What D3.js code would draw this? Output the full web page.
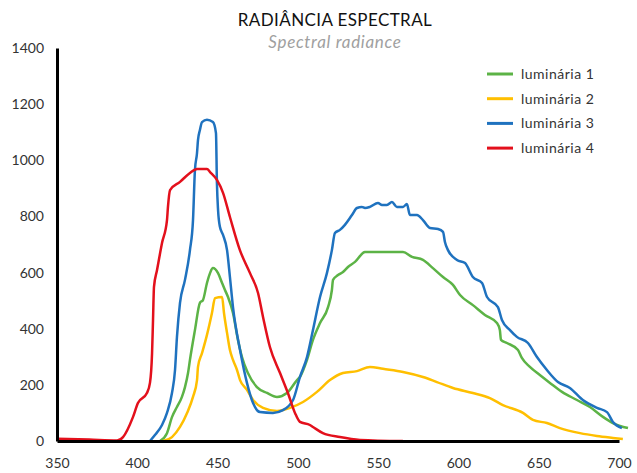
<!DOCTYPE html>
<html>
<head>
<meta charset="utf-8">
<script src="https://cdn.jsdelivr.net/npm/d3@7"></script>
<style>
  html, body { margin: 0; padding: 0; background: #fff; }
  svg { display: block; }
  text { font-family: Lato, "Open Sans", sans-serif; }
</style>
</head>
<body>
<svg id="chart" width="637" height="473"></svg>
<script>
// Wavelength (nm) and spectral radiance readings for each luminaire
const lum1Nm  = [414.1,418.5,421.6,424.7,427.8,429.7,431.6,432.8,435.9,439.0,440.9,443.4,445.3,447.1,450.3,452.8,454.6,456.5,459.6,462.7,465.2,468.9,474.5,480.8,487.0,493.2,499.5,501.3,505.7,509.4,513.8,518.8,521.2,521.9,525.0,528.1,531.2,535.6,541.8,549.3,565.5,571.1,577.9,584.1,590.4,596.6,601.0,609.0,616.5,624.0,625.8,626.5,630.2,637.1,639.5,644.5,650.7,657.0,664.5,673.8,681.9,690.0,696.2,705.6];
const lum1Val = [0,28,85,121,157,192,242,289,395,492,502,563,598,616,598,563,538,513,456,360,299,242,192,171,157,171,217,228,289,360,420,477,538,574,591,602,620,638,673,673,673,656,645,616,584,556,520,484,449,420,395,360,349,324,296,264,235,207,175,146,121,86,64,46];

const lum2Nm  = [416.0,421.6,426.6,431.0,434.7,437.2,437.8,440.3,443.4,446.5,448.4,452.8,454.0,455.9,457.7,459.6,462.1,464.0,468.3,472.1,478.3,487.0,495.1,503.2,511.9,520.0,528.1,536.8,544.9,553.0,565.5,577.9,586.6,596.6,609.0,619.6,627.7,640.2,646.4,655.1,663.2,675.7,686.2,696.2,702.4];
const lum2Val = [0,14,50,100,157,217,264,313,378,456,509,513,456,385,324,289,253,217,182,146,118,107,118,139,175,217,242,249,264,257,246,228,210,189,171,153,128,100,75,64,46,28,18,11,7];

const lum3Nm  = [407.9,411.0,415.4,418.5,421.6,423.5,424.7,426.6,429.7,432.8,434.7,435.9,437.2,437.8,439.0,440.3,443.4,447.1,449.0,449.6,450.3,451.5,453.4,455.9,457.7,459.6,464.0,468.3,472.1,476.4,484.5,490.7,497.0,501.3,505.7,509.4,513.8,518.1,521.2,523.1,526.2,529.3,533.7,536.8,539.9,541.8,544.9,549.9,552.4,555.5,558.6,561.7,565.5,567.9,569.8,574.2,577.9,582.3,587.3,590.4,591.6,593.5,599.1,604.1,609.0,614.7,617.8,624.6,627.1,632.1,636.4,643.3,648.9,655.1,662.0,669.4,677.5,686.3,692.5,696.2,701.8];
const lum3Val = [0,21,57,100,171,253,370,492,574,680,787,965,1026,1072,1108,1136,1144,1136,1097,919,823,762,734,680,584,477,324,207,135,103,100,110,146,228,299,395,513,598,680,741,752,770,805,830,834,830,834,848,841,841,851,834,834,844,805,805,787,759,755,745,709,680,645,634,584,563,513,477,431,395,371,349,299,253,210,189,146,118,103,68,46];

const lum4Nm  = [350,370,387.4,391.1,397.3,400.4,406.0,407.9,409.2,409.8,410.4,412.3,415.4,418.5,419.1,420.4,426.6,432.8,437.2,443.4,445.3,449.6,453.4,457.7,463.9,470.2,475.2,478.3,482.6,488.9,493.8,498.2,501.3,507.5,509.4,515.6,526.2,538.7,565.4];
const lum4Val = [8,5,2,14,85,135,171,207,313,431,549,609,705,787,834,894,923,955,969,969,958,930,884,798,680,598,527,442,335,242,171,100,68,57,50,28,14,4,0];

const seriesNames  = ["luminária 1", "luminária 2", "luminária 3", "luminária 4"];
const seriesColors = ["#5cb346", "#ffbf00", "#1f72bf", "#e3101c"];
const xTicks = [350, 400, 450, 500, 550, 600, 650, 700];
const yTicks = [0, 200, 400, 600, 800, 1000, 1200, 1400];

const seriesData = [
  d3.zip(lum1Nm, lum1Val),
  d3.zip(lum2Nm, lum2Val),
  d3.zip(lum3Nm, lum3Val),
  d3.zip(lum4Nm, lum4Val)
];

const svg = d3.select("#chart");

const x = d3.scaleLinear().domain([350, 700]).range([57, 619]);
const y = d3.scaleLinear().domain([0, 1400]).range([441, 48]);

// Titles
svg.append("text")
  .attr("x", 335).attr("y", 26)
  .attr("text-anchor", "middle")
  .attr("font-size", 17)
  .attr("font-weight", 400)
  .attr("letter-spacing", 0.4)
  .attr("fill", "#111")
  .text("RADIÂNCIA ESPECTRAL");
svg.append("text")
  .attr("x", 335).attr("y", 48)
  .attr("text-anchor", "middle")
  .attr("font-size", 17)
  .attr("font-weight", 400)
  .attr("letter-spacing", 0.7)
  .attr("font-style", "italic")
  .attr("fill", "#a0a0a0")
  .text("Spectral radiance");

// Series lines
const line = d3.line()
  .x(d => x(d[0]))
  .y(d => y(d[1]))
  .curve(d3.curveMonotoneX);

svg.append("g")
  .selectAll("path")
  .data(seriesData)
  .join("path")
  .attr("fill", "none")
  .attr("stroke", (d, i) => seriesColors[i])
  .attr("stroke-width", 2.5)
  .attr("stroke-linejoin", "round")
  .attr("d", line);

// Axes
const xAxis = d3.axisBottom(x).tickValues(xTicks).tickFormat(d3.format("d"))
  .tickSize(0).tickPadding(17).tickSizeOuter(0);
const yAxis = d3.axisLeft(y).tickValues(yTicks).tickFormat(d3.format("d"))
  .tickSize(0).tickPadding(13).tickSizeOuter(0);

const gx = svg.append("g").attr("transform", `translate(0,${y(0)})`).call(xAxis);
const gy = svg.append("g").attr("transform", `translate(${x(350)},0)`).call(yAxis);

[gx, gy].forEach(g => {
  g.select(".domain").attr("stroke", "#000").attr("stroke-width", 3);
  g.selectAll(".tick text")
    .attr("font-size", 14)
    .attr("font-weight", 400)
    .attr("fill", "#333")
    .style("font-family", "Lato, 'Open Sans', sans-serif");
});

// Legend
const legend = svg.append("g");
seriesNames.forEach((name, i) => {
  const ly = 74 + i * 24.7;
  legend.append("line")
    .attr("x1", 487).attr("x2", 513)
    .attr("y1", ly).attr("y2", ly)
    .attr("stroke", seriesColors[i])
    .attr("stroke-width", 3);
  legend.append("text")
    .attr("x", 521).attr("y", ly)
    .attr("dy", "0.35em")
    .attr("font-size", 14)
    .attr("font-weight", 400)
    .attr("letter-spacing", 0.5)
    .attr("fill", "#333")
    .text(name);
});
</script>
</body>
</html>
